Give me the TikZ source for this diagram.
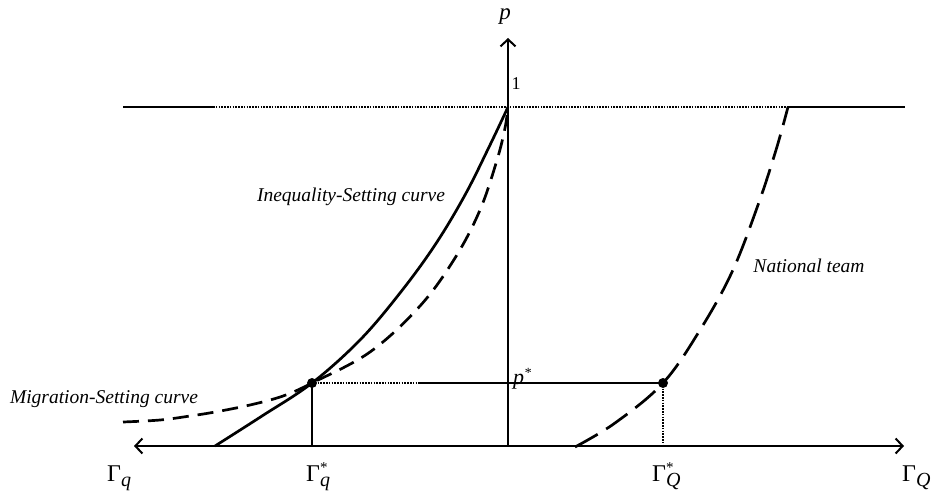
\documentclass[tikz,border=0pt]{standalone}
\usepackage{fontspec}
\setmainfont{Liberation Serif}
\usetikzlibrary{arrows.meta}
\newcommand{\Gsub}[1]{\raisebox{-5pt}{\fontsize{20}{20}\selectfont\itshape #1}}
\newcommand{\Gstar}{\rlap{\raisebox{9pt}{\fontsize{15}{15}\selectfont *}}}
\begin{document}
\begin{tikzpicture}[x=1pt,y=-1pt,
  axis/.style={line width=1.8pt},
  tip/.style={-{Straight Barb[length=7pt,width=15pt,line width=2pt]}},
  curvesolid/.style={line width=2.7pt},
  migdash/.style={line width=2.7pt,dash pattern=on 16pt off 9pt},
  natdash/.style={line width=2.7pt,dash pattern=on 26pt off 10pt},
  guide/.style={line width=1.6pt},
  dots/.style={line width=1.5pt,dash pattern=on 1.5pt off 1.3pt},
  lab/.style={font=\fontsize{19.5}{19.5}\selectfont\itshape},
  glab/.style={font=\fontsize{24}{24}\selectfont,anchor=base west,inner sep=0pt},
  pt/.style={circle,fill=black,inner sep=0pt,minimum size=10pt}]
\useasboundingbox (0,0) rectangle (933,495);
% coordinates
\coordinate (O) at (508,446);
\coordinate (L) at (134,446);
\coordinate (R) at (904,446);
\coordinate (T) at (508,38);
\coordinate (hl0) at (123,107);
\coordinate (hl1) at (213,107);
\coordinate (hr0) at (787,107);
\coordinate (hr1) at (905,107);
\node[pt] (A) at (312,383) {};
\node[pt] (B) at (663,383) {};
\coordinate (Ax) at (312,446);
\coordinate (Bx) at (663,446);
\coordinate (Adot) at (418,383);
% axes
\draw[axis,tip] (O) -- (L);
\draw[axis,tip] (O) -- (R);
\draw[axis,tip] (O) -- (T);
% top line
\draw[guide] (hl0) -- (hl1);
\draw[dots] (hl1) -- (hr0);
\draw[guide] (hr0) -- (hr1);
% guides
\draw[guide] (A.center) -- (Ax);
\draw[dots] (A.center) -- (Adot);
\draw[guide] (Adot) -- (B.center);
\draw[dots] (B.center) -- (Bx);
% curves
\draw[curvesolid] plot[smooth,tension=0.6] coordinates {(215,446) (262,416) (312,383) (360,340) (400,293) (435,245) (465,195) (490,145) (508,107)};
\draw[migdash] plot[smooth,tension=0.6] coordinates {(123,422) (160,420) (190,416) (215,412) (250,405) (283,396) (312,383) (370,352) (420,306) (455,258) (480,210) (497,160) (505,128) (508,107)};
\draw[natdash] plot[smooth,tension=0.6] coordinates {(575,447) (615,423) (663,383) (700,330) (732,272) (758,205) (776,150) (788,107)};
% labels
\node[font=\fontsize{23}{23}\selectfont\itshape] (plab) at (505,17) {p};
\node[font=\fontsize{18}{18}\selectfont] (onelab) at (516,84) {1};
\node[font=\fontsize{22}{22}\selectfont\itshape,anchor=base west,inner sep=0pt] (pstar) at (513,384) {p\raisebox{7pt}{\fontsize{14}{14}\selectfont *}};
\node[lab] (ineq) at (351,197) {Inequality-Setting curve};
\node[lab] (mig) at (104,399) {Migration-Setting curve};
\node[lab] (nat) at (809,266) {National team};
\node[glab] (gq) at (107,481) {Γ\Gsub{q}};
\node[glab] (gqs) at (306,481) {Γ\Gstar\Gsub{q}};
\node[glab] (gQs) at (652,481) {Γ\Gstar\Gsub{Q}};
\node[glab] (gQ) at (902,481) {Γ\Gsub{Q}};
\end{tikzpicture}
\end{document}
